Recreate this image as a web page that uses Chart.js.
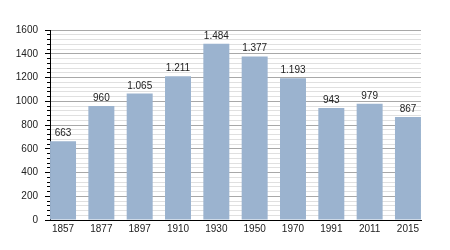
<!DOCTYPE html>
<html>
<head>
<meta charset="utf-8">
<script src="https://cdn.jsdelivr.net/npm/chart.js@4/dist/chart.umd.min.js"></script>
<style>
  html, body { margin: 0; padding: 0; background: #fff; }
  #wrap { width: 450px; height: 250px; position: relative; }
</style>
</head>
<body>
<div id="wrap"><canvas id="c"></canvas></div>
<script>
const years = ['1857','1877','1897','1910','1930','1950','1970','1991','2011','2015'];
const population = [663, 960, 1065, 1211, 1484, 1377, 1193, 943, 979, 867];
const yMax = 1600;
const yMinorStep = 40;
const yMajorStep = 200;

function fmt(v) {
  const s = String(v);
  return s.length > 3 ? s.slice(0, s.length - 3) + '.' + s.slice(-3) : s;
}

const FONT = "'Liberation Sans', Arial, sans-serif";

const valueLabels = {
  id: 'valueLabels',
  afterDatasetsDraw(chart) {
    const ctx = chart.ctx;
    const meta = chart.getDatasetMeta(0);
    ctx.save();
    ctx.font = '10px ' + FONT;
    ctx.fillStyle = '#222';
    ctx.textAlign = 'center';
    ctx.textBaseline = 'alphabetic';
    meta.data.forEach((bar, i) => {
      ctx.fillText(fmt(population[i]), bar.x, bar.y - 5);
    });
    ctx.restore();
  }
};

const isMajor = (c) => c.tick && c.tick.value % yMajorStep === 0;

new Chart(document.getElementById('c'), {
  type: 'bar',
  data: {
    datasets: [{
      data: years.map((y, i) => ({ x: i, y: population[i] })),
      backgroundColor: '#9bb3cf',
      borderWidth: 0,
      categoryPercentage: 1,
      barPercentage: 0.678
    }]
  },
  options: {
    responsive: true,
    maintainAspectRatio: false,
    animation: false,
    devicePixelRatio: 1,
    layout: { padding: { left: 0, right: 29, top: 30, bottom: 0 } },
    plugins: { legend: { display: false }, tooltip: { enabled: false } },
    scales: {
      x: {
        type: 'linear',
        min: -0.34,
        max: years.length - 1 + 0.34,
        offset: false,
        afterBuildTicks: (s) => { s.ticks = years.map((_, i) => ({ value: i })); },
        afterFit: (s) => { s.height = 30; },
        grid: { display: false, drawTicks: false, offset: false },
        border: { display: true, color: '#000', width: 1 },
        ticks: {
          autoSkip: false,
          maxRotation: 0,
          padding: 3,
          color: '#222',
          font: { family: FONT, size: 10 },
          callback: (v) => years[v] !== undefined ? years[v] : ''
        }
      },
      y: {
        min: 0,
        max: yMax,
        afterFit: (s) => { s.width = 50; },
        grid: {
          color: (c) => isMajor(c) ? '#a8a8a8' : '#e0e0e0',
          tickColor: '#000',
          tickLength: 5,
          tickBorderDash: (c) => isMajor(c) ? [] : [0, 2, 3, 100],
          drawTicks: true
        },
        border: { display: true, color: '#000', width: 1 },
        ticks: {
          stepSize: yMinorStep,
          autoSkip: false,
          padding: 7,
          color: '#222',
          font: { family: FONT, size: 10 },
          callback: (v) => v % yMajorStep === 0 ? String(v) : ''
        }
      }
    }
  },
  plugins: [valueLabels]
});
</script>
</body>
</html>
